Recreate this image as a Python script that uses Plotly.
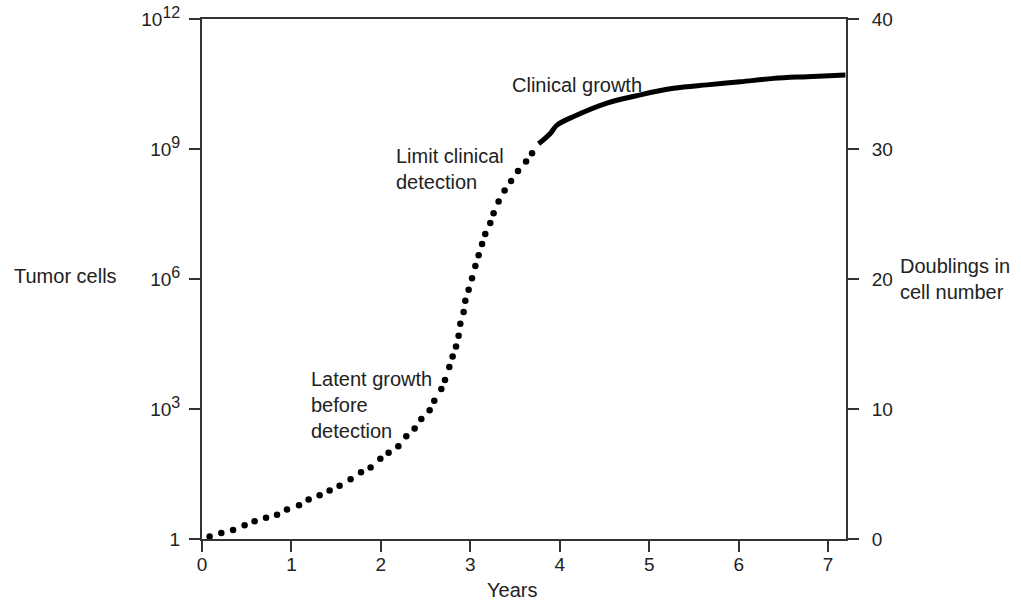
import plotly.graph_objects as go

# ---- data ----
# latent (dotted) phase: years and log10(tumor cells)
latent_years = [0.085, 0.216, 0.347, 0.476, 0.588, 0.716, 0.839, 0.950, 1.085, 1.192,
                1.315, 1.427, 1.538, 1.661, 1.778, 1.885, 1.994, 2.086, 2.195, 2.284,
                2.377, 2.452, 2.545, 2.597, 2.676, 2.717, 2.765, 2.802, 2.840, 2.869,
                2.888, 2.925, 2.944, 2.981, 3.019, 3.056, 3.093, 3.131, 3.167, 3.223,
                3.260, 3.316, 3.383, 3.455, 3.533, 3.623, 3.690]
latent_log10_cells = [0.06, 0.14, 0.21, 0.32, 0.41, 0.49, 0.56, 0.68, 0.78, 0.91,
                      1.01, 1.12, 1.23, 1.38, 1.54, 1.65, 1.85, 1.99, 2.14, 2.37,
                      2.55, 2.77, 2.97, 3.19, 3.46, 3.67, 3.97, 4.21, 4.44, 4.69,
                      4.97, 5.24, 5.50, 5.75, 6.02, 6.30, 6.55, 6.81, 7.04, 7.29,
                      7.52, 7.79, 8.04, 8.26, 8.49, 8.71, 8.90]
# clinical (solid) phase
clinical_years = [3.763, 3.894, 3.969, 4.155, 4.528, 4.901, 5.273, 5.646, 6.018, 6.391, 6.764, 7.193]
clinical_log10_cells = [9.12, 9.36, 9.55, 9.75, 10.06, 10.25, 10.40, 10.48, 10.55, 10.63, 10.67, 10.71]

x_ticks = [0, 1, 2, 3, 4, 5, 6, 7]
y_tickvals = [1, 1e3, 1e6, 1e9, 1e12]
y_exponents = ["", "3", "6", "9", "12"]
y2_ticks = [0, 10, 20, 30, 40]

FONT = "Arial, Liberation Sans, sans-serif"
TXT = "#222222"
AX = "#333333"
FS = 19
FA = 20

latent_cells = [10 ** v for v in latent_log10_cells]
clinical_cells = [10 ** v for v in clinical_log10_cells]
y_ticktext = ["1" if e == "" else "10<sup><span style='font-size:16px'>" + e + "</span></sup>"
              for e in y_exponents]

fig = go.Figure()
fig.add_trace(go.Scatter(x=latent_years, y=latent_cells, mode="markers",
                         marker=dict(color="black", size=6.5, symbol="circle", line=dict(width=0)),
                         showlegend=False, hoverinfo="skip", cliponaxis=False))
fig.add_trace(go.Scatter(x=clinical_years, y=clinical_cells, mode="lines",
                         line=dict(color="black", width=5, shape="spline"),
                         showlegend=False, hoverinfo="skip", cliponaxis=False))
# invisible trace for the right axis
fig.add_trace(go.Scatter(x=[0], y=[0], yaxis="y2", mode="markers",
                         marker=dict(opacity=0), showlegend=False, hoverinfo="skip"))

axis_common = dict(showgrid=False, zeroline=False, showline=True, linecolor=AX, linewidth=2,
                   ticks="outside", ticklen=11, tickwidth=2, tickcolor=AX, automargin=False,
                   tickfont=dict(family=FONT, size=FS, color=TXT))

fig.update_layout(
    width=1021, height=604,
    margin=dict(l=202, r=175, t=19, b=65, pad=0),
    paper_bgcolor="white", plot_bgcolor="white",
    font=dict(family=FONT, size=FS, color=TXT),
    xaxis=dict(range=[0, 7.2], tickvals=x_ticks, ticktext=[str(v) for v in x_ticks],
               mirror=True, ticklabelstandoff=-4, **axis_common),
    yaxis=dict(type="log", range=[0, 12], tickvals=y_tickvals, ticktext=y_ticktext,
               ticklabelstandoff=5, **axis_common),
    yaxis2=dict(range=[0, 40], tickvals=y2_ticks, ticktext=[str(v) for v in y2_ticks],
                overlaying="y", side="right", anchor="x", ticklabelstandoff=9, **axis_common),
)

def ann(text, x, y, xanchor="left", yanchor="middle"):
    fig.add_annotation(text=text, xref="paper", yref="paper", x=x, y=y,
                       xanchor=xanchor, yanchor=yanchor, align="left", showarrow=False,
                       font=dict(family=FONT, size=FA, color=TXT))

ann("Clinical growth", 0.478, 0.874)
ann("Limit clinical<br>detection", 0.298, 0.712)
ann("Latent growth<br>before<br>detection", 0.1667, 0.257)
ann("Tumor cells", -0.2955, 0.505)
ann("Doublings in<br>cell number", 1.0807, 0.50)
ann("Years", 0.482, -0.0975, xanchor="center")

fig.write_html("out.html", config={"displayModeBar": False},
               post_script="document.body.style.margin='0px';document.body.style.overflow='hidden';")
